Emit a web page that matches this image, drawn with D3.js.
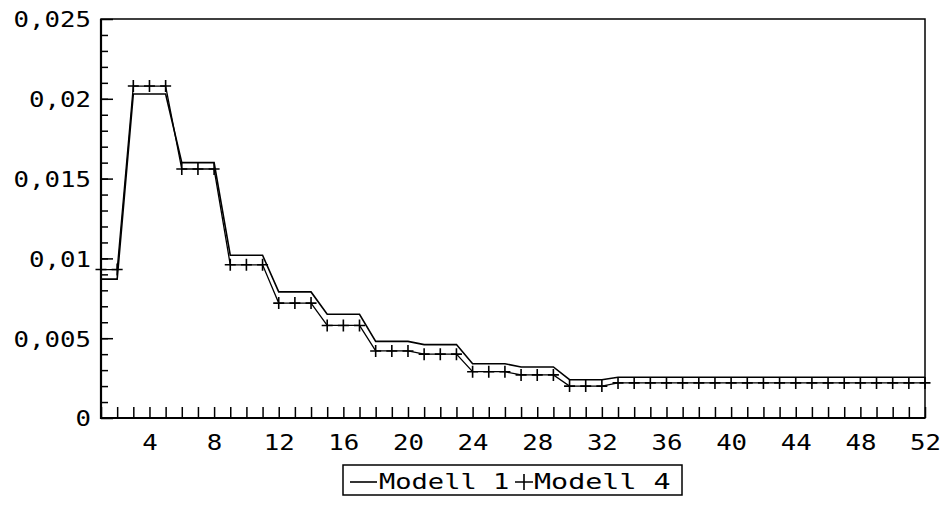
<!DOCTYPE html>
<html>
<head>
<meta charset="utf-8">
<script src="https://cdn.jsdelivr.net/npm/d3@7"></script>
<style>
    body { margin: 0; background: white; }
    svg text { font-family: "DejaVu Sans Mono", monospace; font-size: 22px; fill: black; }
    .axis path, .axis line { stroke: black; }
</style>
</head>
<body>
<div id="graph"></div>
<script>
// weeks 1..52
let weeks = [1, 2, 3, 4, 5, 6, 7, 8, 9, 10, 11, 12, 13, 14, 15, 16, 17, 18, 19, 20,
    21, 22, 23, 24, 25, 26, 27, 28, 29, 30, 31, 32, 33, 34, 35, 36, 37, 38, 39, 40,
    41, 42, 43, 44, 45, 46, 47, 48, 49, 50, 51, 52];

let modell1 = [0.0087, 0.0087, 0.0203, 0.0203, 0.0203, 0.0160, 0.0160, 0.0160, 0.0102, 0.0102,
    0.0102, 0.0079, 0.0079, 0.0079, 0.0065, 0.0065, 0.0065, 0.0048, 0.0048, 0.0048,
    0.0046, 0.0046, 0.0046, 0.0034, 0.0034, 0.0034, 0.0032, 0.0032, 0.0032, 0.0024,
    0.0024, 0.0024, 0.00255, 0.00255, 0.00255, 0.00255, 0.00255, 0.00255, 0.00255, 0.00255,
    0.00255, 0.00255, 0.00255, 0.00255, 0.00255, 0.00255, 0.00255, 0.00255, 0.00255, 0.00255,
    0.00255, 0.00255];

let modell4 = [0.0093, 0.0093, 0.0208, 0.0208, 0.0208, 0.0156, 0.0156, 0.0156, 0.0096, 0.0096,
    0.0096, 0.0072, 0.0072, 0.0072, 0.0058, 0.0058, 0.0058, 0.0042, 0.0042, 0.0042,
    0.0040, 0.0040, 0.0040, 0.0029, 0.0029, 0.0029, 0.0027, 0.0027, 0.0027, 0.0020,
    0.0020, 0.0020, 0.0022, 0.0022, 0.0022, 0.0022, 0.0022, 0.0022, 0.0022, 0.0022,
    0.0022, 0.0022, 0.0022, 0.0022, 0.0022, 0.0022, 0.0022, 0.0022, 0.0022, 0.0022,
    0.0022, 0.0022];

let xTickLabels = [4, 8, 12, 16, 20, 24, 28, 32, 36, 40, 44, 48, 52];
let yTickLabels = [0, 0.005, 0.01, 0.015, 0.02, 0.025];
let legendNames = ["Modell 1", "Modell 4"];

let margin = {top: 19, right: 22, bottom: 89, left: 101},
    width = 947 - margin.left - margin.right,
    height = 507 - margin.top - margin.bottom;

// the scanned font is a wide monospace, so stretch the glyphs a bit
let stretch = 1.17;

let svg = d3.select("#graph").append("svg")
    .attr("width", 947)
    .attr("height", 507)
    .append("g")
    .attr("transform", "translate(" + margin.left + "," + margin.top + ")");

let x = d3.scaleLinear().domain([1, 52]).range([0, width]);
let y = d3.scaleLinear().domain([0, 0.025]).range([height, 0]);

let fmt = v => String(+v.toFixed(3)).replace(".", ",");

// minor y ticks every 0,001
svg.append("g")
    .attr("class", "axis")
    .call(d3.axisLeft(y).tickValues(d3.range(1, 25).map(i => i / 1000)).tickSize(-7).tickFormat(""))
    .call(g => g.select(".domain").remove())
    .selectAll("line").attr("stroke-width", 1.5);

// major y ticks + labels
svg.append("g")
    .attr("class", "axis")
    .call(d3.axisLeft(y).tickValues(yTickLabels).tickSize(-12).tickFormat(fmt))
    .call(g => g.select(".domain").remove())
    .call(g => g.selectAll("text")
        .attr("x", -10 / stretch)
        .attr("dy", "0.36em")
        .attr("transform", "scale(" + stretch + ",1)")
        .style("font-size", "22px").style("font-family", null))
    .selectAll("line").attr("stroke-width", 1.5);

// x ticks on every week
svg.append("g")
    .attr("class", "axis")
    .attr("transform", "translate(0," + height + ")")
    .call(d3.axisBottom(x).tickValues(weeks).tickSize(-11).tickFormat(""))
    .call(g => g.select(".domain").remove())
    .selectAll("line").attr("stroke-width", 1.5);

svg.append("g")
    .attr("class", "axis")
    .attr("transform", "translate(0," + height + ")")
    .call(d3.axisBottom(x).tickValues(xTickLabels).tickSize(0).tickPadding(16).tickFormat(d => d))
    .call(g => g.select(".domain").remove())
    .call(g => g.selectAll("text")
        .attr("dy", "0.75em")
        .attr("transform", "scale(" + stretch + ",1)")
        .style("font-size", "22px").style("font-family", null));

// frame
svg.append("rect")
    .attr("width", width)
    .attr("height", height)
    .attr("fill", "none")
    .attr("stroke", "black")
    .attr("stroke-width", 1.5);
svg.append("path")
    .attr("d", "M0,0V" + height + "H" + width)
    .attr("fill", "none")
    .attr("stroke", "black")
    .attr("stroke-width", 2.2);

let line = d3.line().x(d => x(d[0])).y(d => y(d[1]));

svg.append("path")
    .datum(weeks.map((w, i) => [w, modell1[i]]))
    .attr("d", line)
    .attr("fill", "none")
    .attr("stroke", "black")
    .attr("stroke-width", 1.6);

svg.append("path")
    .datum(weeks.map((w, i) => [w, modell4[i]]))
    .attr("d", line)
    .attr("fill", "none")
    .attr("stroke", "black")
    .attr("stroke-width", 1.3);

let plusPath = "M-5.5,0H5.5M0,-6V6";

svg.selectAll(".plus")
    .data(weeks.map((w, i) => [w, modell4[i]]))
    .enter().append("path")
    .attr("class", "plus")
    .attr("transform", d => "translate(" + x(d[0]) + "," + y(d[1]) + ")")
    .attr("d", plusPath)
    .attr("stroke", "black")
    .attr("stroke-width", 1.6);

// legend
let legend = d3.select("svg").append("g");
legend.append("rect")
    .attr("x", 343).attr("y", 465)
    .attr("width", 339).attr("height", 30)
    .attr("fill", "none")
    .attr("stroke", "black")
    .attr("stroke-width", 1.5);
legend.append("line")
    .attr("x1", 350).attr("x2", 377)
    .attr("y1", 482).attr("y2", 482)
    .attr("stroke", "black").attr("stroke-width", 1.6);
legend.append("path")
    .attr("transform", "translate(524,482)")
    .attr("d", "M-9,0H9M0,-8V8")
    .attr("stroke", "black").attr("stroke-width", 1.6);
legend.selectAll(".ltext")
    .data(legendNames)
    .enter().append("g")
    .attr("transform", (d, i) => i === 0
        ? "translate(379,489) scale(1.23,1)"
        : "translate(534,489) scale(1.29,1)")
    .append("text")
    .attr("class", "ltext")
    .text(d => d);
</script>
</body>
</html>
